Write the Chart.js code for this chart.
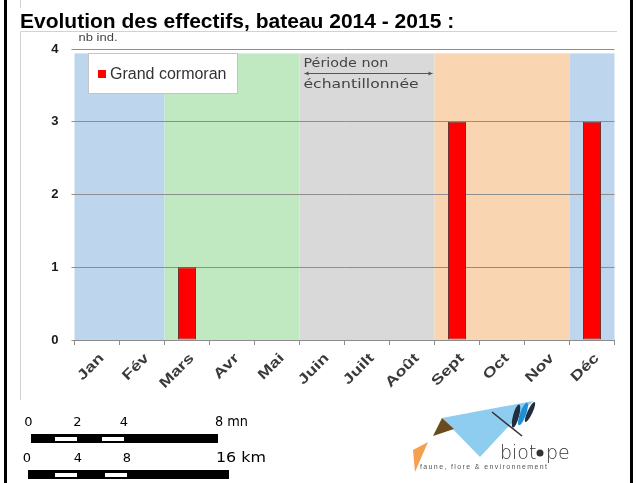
<!DOCTYPE html>
<html>
<head>
<meta charset="utf-8">
<script src="https://cdn.jsdelivr.net/npm/chart.js@4/dist/chart.umd.min.js"></script>
<style>
  html, body { margin: 0; padding: 0; background: #fff; }
  #page { position: relative; width: 636px; height: 483px; overflow: hidden; background: #fff; }
  .frame { position: absolute; top: 0; bottom: 0; width: 3px; background: #000; }
  #title { position: absolute; left: 20px; top: 9px; line-height: 21px; white-space: nowrap;
           font: bold 21px "Liberation Sans", Arial, sans-serif; color: #000; }
  #chart { position: absolute; left: 0; top: 0; }
  #extras { position: absolute; left: 0; top: 0; }
</style>
</head>
<body>
<div id="page">
  <canvas id="chart" width="636" height="483"></canvas>
  <div id="title">Evolution des effectifs, bateau 2014 - 2015 :</div>
  <div class="frame" style="left:4px"></div>
  <div class="frame" style="left:630px"></div>

  <!-- scale bars and logo -->
  <svg id="extras" width="636" height="483" xmlns="http://www.w3.org/2000/svg">
    <g font-family="DejaVu Sans, sans-serif" font-size="13" fill="#000">
      <text x="28.5" y="426" text-anchor="middle">0</text>
      <text x="77.5" y="426" text-anchor="middle">2</text>
      <text x="124" y="426" text-anchor="middle">4</text>
      <text x="215" y="426" font-size="14" textLength="33" lengthAdjust="spacingAndGlyphs">8 mn</text>
      <text x="27" y="462" text-anchor="middle">0</text>
      <text x="78" y="462" text-anchor="middle">4</text>
      <text x="127" y="462" text-anchor="middle">8</text>
      <text x="216" y="462" font-size="14" textLength="50" lengthAdjust="spacingAndGlyphs">16 km</text>
    </g>
    <rect x="31" y="434" width="187" height="9" fill="#000"/>
    <rect x="55" y="437" width="22" height="4" fill="#fff"/>
    <rect x="102" y="437" width="22" height="4" fill="#fff"/>
    <rect x="28" y="470" width="201" height="9" fill="#000"/>
    <rect x="55" y="473" width="22" height="4" fill="#fff"/>
    <rect x="105" y="473" width="22" height="4" fill="#fff"/>

    <g>
      <polygon points="442,418 533,401 507,428 480,457" fill="#8ecdf0"/>
      <polygon points="413,450 428,442 415,472" fill="#f5a04f"/>
      <polygon points="433,436 442,418 454,429" fill="#6a4a1f"/>
      <line x1="492" y1="412" x2="522" y2="436" stroke="#333" stroke-width="1.6"/>
      <ellipse cx="516" cy="416" rx="3" ry="12" fill="#1f2d3d" transform="rotate(15 516 416)"/>
      <ellipse cx="523" cy="414" rx="3" ry="12" fill="#1c8fd6" transform="rotate(20 523 414)"/>
      <ellipse cx="530" cy="412" rx="2.5" ry="11" fill="#1f2d3d" transform="rotate(25 530 412)"/>
      <text x="500" y="459" font-family="DejaVu Sans, sans-serif" font-weight="300" font-size="19" fill="#333">biot</text>
      <circle cx="540" cy="453" r="3.5" fill="#333"/>
      <text x="546" y="459" font-family="DejaVu Sans, sans-serif" font-weight="300" font-size="19" fill="#333">pe</text>
      <text x="420" y="469" font-family="Liberation Sans, sans-serif" font-size="7" fill="#555" textLength="127">faune, flore &amp; environnement</text>
    </g>
  </svg>
</div>

<script>
// Monthly counts of birds seen from the boat, 2014 - 2015
const months = ['Jan', 'Fév', 'Mars', 'Avr', 'Mai', 'Juin', 'Juilt', 'Août', 'Sept', 'Oct', 'Nov', 'Déc'];
const grandCormoran = [0, 0, 1, 0, 0, null, null, null, 3, 0, 0, 3];   // null = not surveyed
const yTicks = [0, 1, 2, 3, 4];
const seriesName = 'Grand cormoran';
const yUnit = 'nb ind.';
const gapNote = ['Période non', 'échantillonnée'];
// Seasons shaded behind the bars (first and last month of each)
const seasons = [['Jan', 'Fév'], ['Mars', 'Mai'], ['Juin', 'Août'], ['Sept', 'Nov'], ['Déc', 'Déc']];
const seasonColors = ['#bdd6ee', '#c0e9c1', '#d9d9d9', '#f9d5b2', '#bdd6ee'];
const unsampled = ['Juin', 'Août'];

const FONT = '"Liberation Sans", Arial, sans-serif';

function stretchedText(ctx, text, x, y, font, color, sx) {
  ctx.save();
  ctx.font = font;
  ctx.fillStyle = color;
  ctx.textBaseline = 'middle';
  ctx.translate(x, y);
  ctx.scale(sx, 1);
  ctx.fillText(text, 0, 0);
  ctx.restore();
}

const backdrop = {
  id: 'backdrop',
  beforeDraw(chart) {
    const { ctx, scales: { x, y } } = chart;
    const half = (x.getPixelForValue(1) - x.getPixelForValue(0)) / 2;
    ctx.save();
    // panel outline
    ctx.strokeStyle = '#d2d2d2';
    ctx.lineWidth = 1;
    ctx.beginPath();
    ctx.moveTo(20.5, 0); ctx.lineTo(20.5, 8);
    ctx.moveTo(20.5, 400); ctx.lineTo(20.5, 31.5); ctx.lineTo(617, 31.5);
    ctx.stroke();
    // season bands
    const top = y.getPixelForValue(3.94), bottom = y.getPixelForValue(0);
    seasons.forEach(([a, b], i) => {
      const x1 = x.getPixelForValue(months.indexOf(a)) - half;
      const x2 = x.getPixelForValue(months.indexOf(b)) + half;
      ctx.fillStyle = seasonColors[i];
      ctx.fillRect(x1, top, x2 - x1, bottom - top);
    });
    ctx.restore();
  },
  afterDraw(chart) {
    const { ctx, scales: { x, y }, chartArea } = chart;
    const half = (x.getPixelForValue(1) - x.getPixelForValue(0)) / 2;
    ctx.save();

    // month labels, slanted at 45 degrees under each month
    ctx.font = 'bold 14px ' + FONT;
    ctx.fillStyle = '#3a3a3a';
    ctx.textAlign = 'right';
    ctx.textBaseline = 'middle';
    months.forEach((m, i) => {
      ctx.save();
      ctx.translate(x.getPixelForValue(i) + 5, chartArea.bottom + 16);
      ctx.rotate(-Math.PI / 4);
      ctx.scale(1.3, 1);
      ctx.fillText(m, 0, 0);
      ctx.restore();
    });
    ctx.textAlign = 'left';

    // axis unit
    stretchedText(ctx, yUnit, chartArea.left + 4, chartArea.top - 11, '10px ' + FONT, '#444', 1.3);

    // legend box
    ctx.fillStyle = '#fff';
    ctx.strokeStyle = '#c4c4c4';
    ctx.lineWidth = 1;
    ctx.fillRect(88.5, 53.5, 149, 40);
    ctx.strokeRect(88.5, 53.5, 149, 40);
    const ds = chart.data.datasets[0];
    ctx.fillStyle = ds.backgroundColor;
    ctx.fillRect(98, 70, 8, 8);
    ctx.font = '16px ' + FONT;
    ctx.fillStyle = '#333';
    ctx.textBaseline = 'middle';
    ctx.fillText(ds.label, 110, 74.5);

    // note over the unsampled months
    const gx1 = x.getPixelForValue(months.indexOf(unsampled[0])) - half + 5;
    const gx2 = x.getPixelForValue(months.indexOf(unsampled[1])) + half - 2;
    stretchedText(ctx, gapNote[0], gx1 - 1, 64, '13px "DejaVu Sans", sans-serif', '#444', 1.1);
    stretchedText(ctx, gapNote[1], gx1 - 1, 85, '13px "DejaVu Sans", sans-serif', '#444', 1.2);
    const ay = 73.5;
    ctx.strokeStyle = '#555';
    ctx.fillStyle = '#555';
    ctx.beginPath();
    ctx.moveTo(gx1, ay); ctx.lineTo(gx2, ay);
    ctx.stroke();
    ctx.beginPath();
    ctx.moveTo(gx1, ay); ctx.lineTo(gx1 + 4, ay - 2); ctx.lineTo(gx1 + 4, ay + 2); ctx.closePath();
    ctx.moveTo(gx2, ay); ctx.lineTo(gx2 - 4, ay - 2); ctx.lineTo(gx2 - 4, ay + 2); ctx.closePath();
    ctx.fill();
    ctx.restore();
  }
};

new Chart(document.getElementById('chart'), {
  type: 'bar',
  data: {
    labels: months,
    datasets: [{
      label: seriesName,
      data: grandCormoran,
      backgroundColor: '#ff0000',
      borderColor: '#6e3434',
      borderWidth: c => (c.raw > 0 ? 1 : 0),
      borderSkipped: false,
      barPercentage: 0.4,
      categoryPercentage: 1
    }]
  },
  options: {
    responsive: false,
    animation: false,
    devicePixelRatio: 1,
    layout: { padding: { left: 0, top: 49, right: 21.5, bottom: 98 } },
    plugins: { legend: { display: false }, tooltip: { enabled: false }, title: { display: false } },
    scales: {
      x: {
        offset: true,
        grid: { offset: true, drawOnChartArea: false, color: '#8c8c8c', tickLength: 5 },
        border: { color: '#8c8c8c' },
        ticks: { display: false },
        afterFit: s => { s.height = 45; }
      },
      y: {
        min: 0, max: 4,
        afterBuildTicks: s => { s.ticks = yTicks.map(v => ({ value: v })); },
        grid: { color: '#8e8e8e', tickLength: 3 },
        border: { display: false },
        ticks: { padding: 13, color: '#1a1a1a', font: { family: FONT, weight: 'bold', size: 13 } },
        afterFit: s => { s.width = 74.5; }
      }
    }
  },
  plugins: [backdrop]
});
</script>
</body>
</html>
